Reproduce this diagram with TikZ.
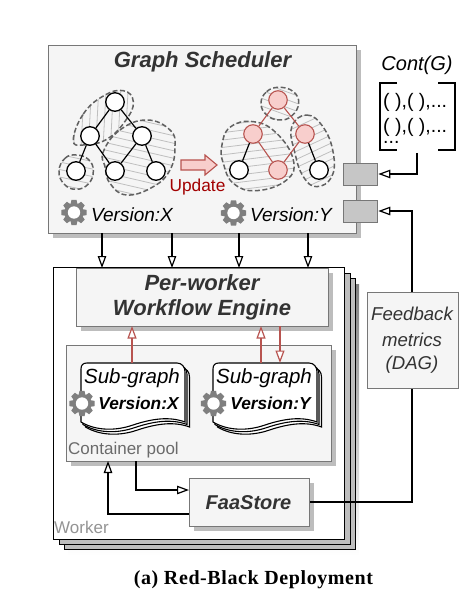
\documentclass[tikz,border=0pt]{standalone}
\usepackage{fontspec}
\setmainfont{Liberation Sans}
\newfontfamily\capfont[LetterSpace=3]{Liberation Serif}
\usetikzlibrary{arrows.meta,shadows,calc}
\definecolor{boxfill}{HTML}{F5F5F5}
\definecolor{boxline}{HTML}{777777}
\definecolor{shade}{HTML}{BDBDBD}
\definecolor{darktxt}{HTML}{333333}
\definecolor{redline}{HTML}{B85450}
\definecolor{pink}{HTML}{F8CECC}
\definecolor{updtxt}{HTML}{A20000}
\definecolor{portfill}{HTML}{C6C6C6}
\definecolor{gearc}{HTML}{7F7F7F}
\tikzset{
  fs/.style={font=\fontsize{#1}{20}\selectfont},
  panel/.style={draw=boxline,line width=1.3pt,fill=boxfill,inner sep=0pt,anchor=north west,
    general shadow={fill=shade,shadow xshift=4pt,shadow yshift=-4pt}},
  workerbox/.style={draw=black,line width=1.4pt,fill=#1,inner sep=0pt,anchor=north west},
  port/.style={draw=boxline,line width=1.3pt,fill=portfill,inner sep=0pt,anchor=north west,minimum width=34pt,minimum height=22pt},
  flow/.style={draw=black,line width=1.2pt,-{Triangle[length=12pt,width=8.5pt,fill=white]}},
  redflow/.style={draw=redline,line width=1.2pt,-{Triangle[length=12.5pt,width=9pt,fill=white]}},
  blackv/.style={circle,draw=black,line width=1.3pt,fill=white,minimum size=18.5pt,inner sep=0pt},
  redv/.style={circle,draw=redline,line width=1.1pt,fill=pink,minimum size=18.5pt,inner sep=0pt},
  gedge/.style={draw=black,line width=1.2pt},
  redge/.style={draw=redline,line width=1.1pt},
  blobline/.style={draw=black!62,line width=1.5pt,dash pattern=on 5pt off 2.5pt},
  hatchline/.style={draw=black!25,line width=.8pt},
  titletxt/.style={font=\fontsize{22}{25}\selectfont\bfseries\itshape,text=darktxt,align=center},
  gear/.pic={
    \foreach \a in {0,45,...,315}
      \fill[gearc,rotate=\a] (-2.6,-12.6) -- (2.6,-12.6) -- (3.4,-8) -- (-3.4,-8) -- cycle;
    \fill[gearc] (0,0) circle[radius=9.6];
    \fill[white] (0,0) circle[radius=6.2];
  }
}
% blob: #1 points, #2 cx, #3 cy, #4 angle, in zoom units
\newcommand{\hatchblob}[4]{%
  \begin{scope}
    \clip plot[smooth cycle,tension=.75] coordinates {#1};
    \foreach \i in {-150,-128,...,150}
      \draw[hatchline,rotate around={#4:(#2,#3)}] (#2-200,#3+\i) -- (#2+200,#3+\i);
  \end{scope}
  \draw[blobline] plot[smooth cycle,tension=.75] coordinates {#1};
}
\newcommand{\docpage}[2]{%
  \draw[black,line width=1.1pt,fill=white,shift={(#1,#2)}]
    (0,6) .. controls (0,2) and (2,0) .. (6,0) -- (96,0)
    .. controls (101,0) and (104,4) .. (104,9) -- (104,59)
    .. controls (88,53) and (70,56) .. (52,62)
    .. controls (35,68) and (15,68) .. (0,59) -- cycle;
}
\begin{document}
\begin{tikzpicture}[x=1pt,y=-1pt]
\useasboundingbox (0,0) rectangle (472,604);

% Scheduler
\node[panel,minimum width=308pt,minimum height=188pt] (sched) at (48,45) {};
\node[titletxt] (schedt) at (202.5,62) {Graph Scheduler};

% blobs left
\begin{scope}[shift={(40,40)},x=.3333pt,y=-.3333pt]
\hatchblob{(100,300)(130,222)(190,168)(250,152)(280,185)(258,240)(200,298)(130,315)}{190}{230}{87}
\hatchblob{(190,335)(240,270)(320,240)(390,270)(405,320)(390,390)(340,440)(260,465)(210,430)(195,380)}{300}{350}{-13}
\hatchblob{(57,393)(75,355)(108,345)(145,358)(160,393)(145,432)(108,448)(72,432)}{108}{395}{-12}
\end{scope}
% blobs right
\begin{scope}[shift={(200,40)},x=.3333pt,y=-.3333pt]
\hatchblob{(183,190)(200,155)(238,142)(280,155)(296,190)(275,228)(238,240)(200,225)}{238}{190}{-20}
\hatchblob{(65,320)(90,262)(160,245)(230,280)(280,360)(260,420)(170,452)(100,430)(70,370)}{170}{350}{7}
\hatchblob{(275,262)(320,225)(370,262)(400,340)(395,410)(350,440)(310,410)(285,340)}{340}{330}{25}
\end{scope}

% left graph
\node[blackv] (a1) at (115,102) {};
\node[blackv] (a2) at (90,136) {};
\node[blackv] (a3) at (142,136) {};
\node[blackv] (a4) at (76,171) {};
\node[blackv] (a5) at (115,171) {};
\node[blackv] (a6) at (156,171) {};
\draw[gedge] (a1)--(a2) (a1)--(a3) (a2)--(a4) (a2)--(a5) (a3)--(a5) (a3)--(a6);
% right graph
\node[redv] (b1) at (278,100) {};
\node[redv] (b2) at (253,134) {};
\node[redv] (b3) at (305,134) {};
\node[blackv] (b4) at (239,170) {};
\node[redv] (b5) at (278,170) {};
\node[blackv] (b6) at (319,170) {};
\draw[redge] (b1)--(b2) (b1)--(b3) (b2)--(b5) (b3)--(b5);
\draw[gedge] (b2)--(b4) (b3)--(b6);

% Update arrow
\draw[draw=redline,fill=pink,line width=1.1pt] (181,160) -- (205,160) -- (205,155) -- (217,165) -- (205,175) -- (205,170) -- (181,170) -- cycle;
\node[fs=17.3,text=updtxt,inner sep=0pt] (upd) at (197.5,187) {Update};

% Versions
\pic at (74,212.5) {gear};
\pic at (233.5,213) {gear};
\node[fs=19,anchor=west,inner sep=0pt] (vx) at (91,214.5) {\itshape Version:X};
\node[fs=19,anchor=west,inner sep=0pt] (vy) at (250,214.5) {\itshape Version:Y};

% Worker stack
\fill[shade] (68,284) rectangle (359,555.5);
\node[workerbox=shade,minimum width=291pt,minimum height=271pt] (w3) at (64,278) {};
\node[workerbox=shade,minimum width=291pt,minimum height=271pt] (w2) at (59,273) {};
\node[workerbox=white,minimum width=291pt,minimum height=272pt] (w1) at (53,267) {};
\node[fs=17,text=black!42,anchor=west,inner sep=0pt] (wlab) at (54,527) {Worker};

% Engine
\node[panel,minimum width=252pt,minimum height=58pt] (eng) at (76,268) {};
\node[titletxt] (engt) at (202,297.5) {Per-worker\\Workflow Engine};

% Top arrows
\foreach \x/\n in {102/a,172/b,239/c,308/d}{
  \coordinate (s\n) at (\x,233);
  \coordinate (e\n) at (\x,268);
  \draw[flow] (s\n) -- (e\n);
}

% Container pool
\node[panel,minimum width=265pt,minimum height=116pt] (pool) at (66,345) {};
\node[fs=17,text=black!58,anchor=west,inner sep=0pt] (plab) at (68,450) {Container pool};

% Sub-graphs
\docpage{85.5}{368}\docpage{83}{365.5}\docpage{81}{363}
\node[fs=20.5,inner sep=0pt] (sx) at (132,378) {\itshape Sub-graph};
\node[fs=17.3,inner sep=0pt] (svx) at (138.5,403.5) {\bfseries\itshape Version:X};
\pic at (82,403.5) {gear};
\docpage{217.5}{368}\docpage{215}{365.5}\docpage{213}{363}
\node[fs=20.5,inner sep=0pt] (sy) at (264,378) {\itshape Sub-graph};
\node[fs=17.3,inner sep=0pt] (svy) at (270.5,403.5) {\bfseries\itshape Version:Y};
\pic at (213.5,403.5) {gear};

% red arrows
\coordinate (xt) at (132,363);
\coordinate (xe) at (132,326);
\coordinate (yt) at (261,363);
\coordinate (ye) at (261,326);
\coordinate (zt) at (280,363);
\coordinate (ze) at (280,326);
\draw[redflow] (xt) -- (xe);
\draw[redflow] (yt) -- (ye);
\draw[redflow] (ze) -- (zt);

% FaaStore
\node[panel,minimum width=120pt,minimum height=48pt] (faa) at (189,478) {};
\node[font=\fontsize{20}{24}\selectfont\bfseries\itshape,text=darktxt,inner sep=0pt] (faat) at (248.5,503) {FaaStore};
\coordinate (p1) at (136,461);
\coordinate (f1) at (189,490);
\coordinate (f2) at (189,514);
\coordinate (p2) at (108,461);
\draw[flow] (p1) |- (f1);
\draw[flow] (f2) -| (p2);

% Ports
\node[port] (port1) at (343,163) {};
\node[port] (port2) at (343,199.5) {};

% Feedback
\coordinate (fbt) at (412,211);
\coordinate (fbb) at (412,502);
\draw[flow] (faa.east |- fbb) -- (fbb) -- (fbt) -- (port2.east |- fbt);
\node[draw=boxline,line width=1.3pt,fill=boxfill,anchor=north west,minimum width=91pt,minimum height=96pt,inner sep=0pt] (fb) at (367,292) {};
\node[fs=18.6,text=darktxt,inner sep=0pt] (fb1) at (412,313.5) {\itshape Feedback};
\node[fs=18.6,text=darktxt,inner sep=0pt] (fb2) at (412,340) {\itshape metrics};
\node[fs=18.6,text=darktxt,inner sep=0pt] (fb3) at (412,365) {\itshape (DAG)};

% Cont(G)
\node[fs=20,inner sep=0pt] (cont) at (417,65) {\itshape Cont(G)};
\draw[black,line width=1.2pt] (397,83) -| (380,150) -- (397,150);
\draw[black,line width=1.2pt] (438,83) -| (455,150) -- (438,150);
\node[fs=19.5,anchor=base west,inner sep=0pt] (m1) at (383,108) {( ),( ),...};
\node[fs=19.5,anchor=base west,inner sep=0pt] (m2) at (383,133) {( ),( ),...};
\node[fs=19.5,anchor=base west,inner sep=0pt] (m3) at (383,143) {...};
\coordinate (cb) at (417,153);
\coordinate (ca) at (417,174);
\draw[flow] (cb) -- (ca) -- (port1.east |- ca);

% Caption
\node[font=\fontsize{20}{24}\selectfont\capfont\bfseries,inner sep=0pt] (cap) at (253.5,579.5) {(a) Red-Black Deployment};
\end{tikzpicture}
\end{document}
